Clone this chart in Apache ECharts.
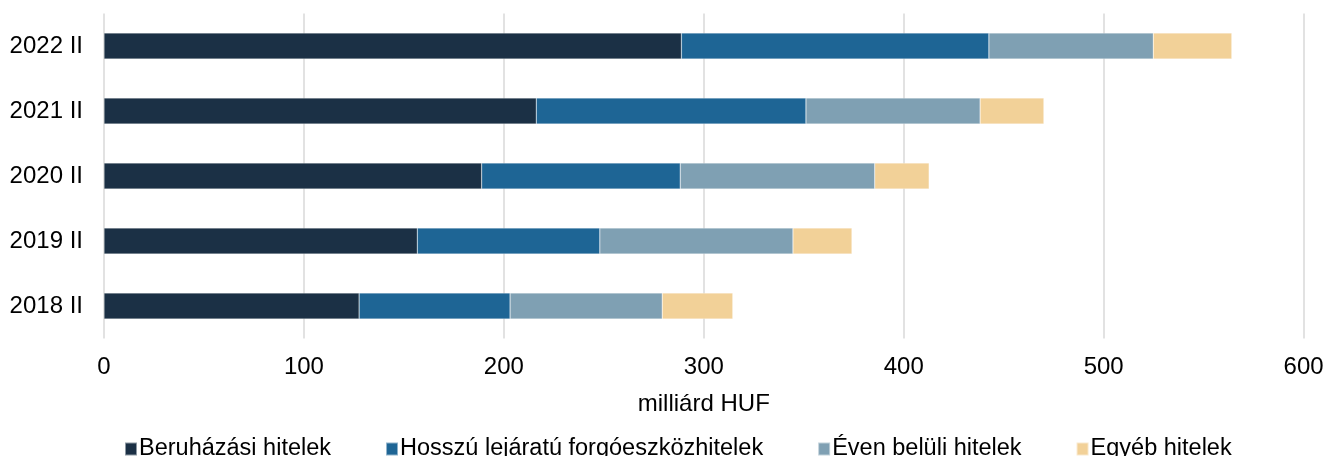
<!DOCTYPE html>
<html>
<head>
<meta charset="utf-8">
<script src="https://cdn.jsdelivr.net/npm/echarts@6/dist/echarts.min.js"></script>
<style>
  html, body { margin: 0; padding: 0; background: #fff; }
  #chart { width: 1337px; height: 456px; }
</style>
</head>
<body>
<div id="chart"></div>
<script>
    // kategóriák (alulról felfelé)
    const categories = ['2018 II', '2019 II', '2020 II', '2021 II', '2022 II'];
    const seriesNames = ['Beruházási hitelek', 'Hosszú lejáratú forgóeszközhitelek', 'Éven belüli hitelek', 'Egyéb hitelek'];

    // értékek, milliárd HUF
    const beruhazasi = [127.6, 156.7, 188.9, 216.2, 288.8];
    const hosszu = [75.5, 91.3, 99.3, 134.9, 153.8];
    const evenBeluli = [76.1, 96.6, 97.3, 87.1, 82.2];
    const egyeb = [35.3, 29.5, 27.2, 31.9, 39.3];

    const xTicks = [0, 100, 200, 300, 400, 500, 600];
    const colors = ['#1b3045', '#1e6595', '#7fa0b3', '#f2d198'];

    const font = 'Arial, "Liberation Sans", sans-serif';
    const chart = echarts.init(document.getElementById('chart'));

    const seriesData = [beruhazasi, hosszu, evenBeluli, egyeb];
    const series = seriesNames.map((name, i) => {
        return {
            type: 'bar',
            name: name,
            stack: 'total',
            barWidth: 26,
            data: seriesData[i],
            itemStyle: {
                color: colors[i],
                borderColor: 'rgba(255,255,255,0.5)',
                borderWidth: 0.5
            }
        };
    });

    const option = {
        backgroundColor: '#fff',
        animation: false,
        color: colors,
        grid: {
            left: 104,
            right: 33.4,
            top: 13.5,
            height: 325,
            containLabel: false
        },
        legend: {
            data: seriesNames,
            left: 124,
            top: 437,
            padding: 0,
            icon: 'rect',
            itemWidth: 12,
            itemHeight: 13,
            itemGap: 54,
            textStyle: {
                fontFamily: font,
                fontSize: 23.5,
                color: '#000',
                padding: [0, 0, 0, -3]
            }
        },
        xAxis: {
            type: 'value',
            min: xTicks[0],
            max: xTicks[xTicks.length - 1],
            interval: 100,
            name: 'milliárd HUF',
            nameLocation: 'middle',
            nameGap: 54,
            nameTextStyle: {
                fontFamily: font,
                fontSize: 24,
                color: '#000'
            },
            axisLine: { show: false },
            axisTick: { show: false },
            axisLabel: {
                margin: 17,
                fontFamily: font,
                fontSize: 24,
                color: '#000'
            },
            splitLine: {
                show: true,
                lineStyle: {
                    color: '#d9d9d9',
                    width: 1.5
                }
            }
        },
        yAxis: {
            type: 'category',
            data: categories,
            axisLine: { show: false },
            axisTick: { show: false },
            axisLabel: {
                margin: 21,
                fontFamily: font,
                fontSize: 24,
                color: '#000'
            },
            splitLine: { show: false }
        },
        series: series
    };

    chart.setOption(option);
</script>
</body>
</html>
